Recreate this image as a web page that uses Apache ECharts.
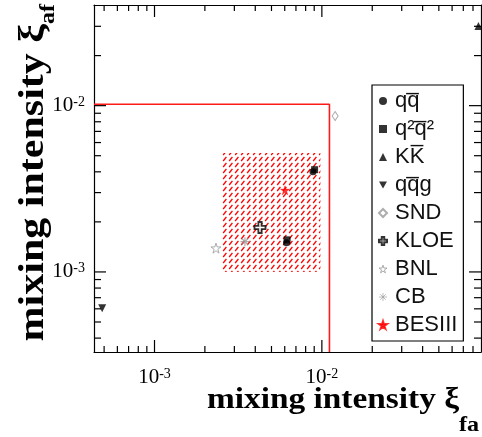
<!DOCTYPE html>
<html lang="en">
<head>
<meta charset="UTF-8">
<title>mixing intensity</title>
<script src="https://cdn.jsdelivr.net/npm/echarts@6/dist/echarts.min.js"></script>
<style>html,body{margin:0;padding:0;background:#fff;}</style>
</head>
<body>
<div id="main" style="width:482px;height:437px;"></div>
<script type="text/javascript">
// axis ranges (log scale) and tick values
var xRange = [4.35e-4, 0.0893];
var yRange = [3.3e-4, 0.0403];
var xMajor = [1e-3, 1e-2];
var yMajor = [1e-3, 1e-2];
var xMinor = [5e-4, 6e-4, 7e-4, 8e-4, 9e-4, 2e-3, 3e-3, 4e-3, 5e-3, 6e-3, 7e-3, 8e-3, 9e-3,
              2e-2, 3e-2, 4e-2, 5e-2, 6e-2, 7e-2, 8e-2];
var yMinor = [4e-4, 5e-4, 6e-4, 7e-4, 8e-4, 9e-4, 2e-3, 3e-3, 4e-3, 5e-3, 6e-3, 7e-3, 8e-3, 9e-3,
              2e-2, 3e-2];

// legend names
var names = ['qq\u0305', 'q\u00b2q\u0305\u00b2', 'KK\u0305', 'qq\u0305g', 'SND', 'KLOE', 'BNL', 'CB', 'BESIII'];

// points [xi_fa, xi_af]
var qqbar   = [[8.85e-3, 4.0e-3], [6.15e-3, 1.5e-3]];
var q2q2bar = [[9.05e-3, 4.12e-3], [6.2e-3, 1.56e-3]];
var kkbar   = [[0.0862, 0.0301]];
var qqg     = [[4.87e-4, 6.04e-4]];
var snd     = [[0.012, 8.66e-3]];
var kloe    = [[4.27e-3, 1.85e-3]];
var bnl     = [[2.33e-3, 1.39e-3]];
var cb      = [[3.47e-3, 1.52e-3]];
var besiii  = [[6.02e-3, 3.1e-3]];

// BESIII allowed band and upper limits
var bandX = [2.5e-3, 9.8e-3];
var bandY = [1.0e-3, 5.2e-3];
var boundX = 0.0111;
var boundY = 0.0102;

var serif = '"Liberation Serif", "Times New Roman", serif';
var sans = '"Liberation Sans", Arial, sans-serif';

var myChart = echarts.init(document.getElementById('main'));

// red hatch for the band
var hatch = document.createElement('canvas');
hatch.width = 6; hatch.height = 6;
var hc = hatch.getContext('2d');
hc.strokeStyle = '#ff0000';
hc.lineWidth = 1.3;
hc.beginPath(); hc.moveTo(1.2, 5); hc.lineTo(4.4, 0.8); hc.stroke();

var starPath = 'path://M50,2 L61,37 L98,37 L68,59 L79,95 L50,73 L21,95 L32,59 L2,37 L39,37 Z';
var plusPath = 'path://M35,0 H65 V35 H100 V65 H65 V100 H35 V65 H0 V35 H35 Z';
var astPath = 'path://M50,0 L50,100 M0,50 L100,50 M15,15 L85,85 M85,15 L15,85';
var downPath = 'path://M0,0 L100,0 L50,90 Z';

function powLabel(v) {
    var e = Math.log(v) / Math.LN10;
    var r = Math.round(e);
    if (Math.abs(e - r) > 1e-6) return '';
    return '{b|10}{s|' + r + '}';
}

var labelRich = {
    b: {fontFamily: serif, fontSize: 21, color: '#000', lineHeight: 21, verticalAlign: 'bottom'},
    s: {fontFamily: serif, fontSize: 14, color: '#000', lineHeight: 14, verticalAlign: 'top'}
};

// ticks drawn inward from each frame edge
function tickSeries(vals, axis, side, len) {
    return {
        type: 'custom', silent: true, z: 6, clip: false,
        data: vals.map(function (v) {
            if (axis === 'x') return [v, side === 'lo' ? yRange[0] : yRange[1]];
            return [side === 'lo' ? xRange[0] : xRange[1], v];
        }),
        renderItem: function (params, api) {
            var p = api.coord([api.value(0), api.value(1)]);
            var q;
            if (axis === 'x') q = [p[0], side === 'lo' ? p[1] - len : p[1] + len];
            else q = [side === 'lo' ? p[0] + len : p[0] - len, p[1]];
            return {
                type: 'line',
                shape: {x1: p[0], y1: p[1], x2: q[0], y2: q[1]},
                style: {stroke: '#000', lineWidth: 1.2}
            };
        }
    };
}

function pts(name, data, symbol, size, style) {
    return {
        name: name, type: 'scatter', z: 4, data: data,
        symbol: symbol, symbolSize: size, itemStyle: style
    };
}

var axisBase = {
    type: 'log', logBase: 10,
    axisLine: {show: true, onZero: false, lineStyle: {color: '#000', width: 1.2}},
    axisTick: {show: false}, minorTick: {show: false},
    splitLine: {show: false}, minorSplitLine: {show: false}
};

var legendData = names.map(function (n, i) {
    var d = {name: n};
    if (i === 6) d.itemStyle = {color: '#fff', borderColor: '#999', borderWidth: 1};
    if (i === 7) d.itemStyle = {color: '#999', borderColor: '#999', borderWidth: 0.8};
    return d;
});

var option = {
    animation: false,
    backgroundColor: '#fff',
    grid: {left: 94, right: 1, top: 5, bottom: 85, outerBoundsMode: 'none'},
    xAxis: [
        echarts.util.merge({
            min: xRange[0], max: xRange[1], position: 'bottom',
            axisLabel: {margin: 15, showMinLabel: false, showMaxLabel: false, formatter: powLabel, rich: labelRich}
        }, axisBase),
        echarts.util.merge({
            min: xRange[0], max: xRange[1], position: 'top', axisLabel: {show: false}
        }, axisBase)
    ],
    yAxis: [
        echarts.util.merge({
            min: yRange[0], max: yRange[1], position: 'left',
            axisLabel: {margin: 9, showMinLabel: false, showMaxLabel: false, formatter: powLabel, rich: labelRich}
        }, axisBase),
        echarts.util.merge({
            min: yRange[0], max: yRange[1], position: 'right', axisLabel: {show: false}
        }, axisBase)
    ],
    legend: {
        orient: 'vertical', left: 372, top: 85,
        data: legendData, selectedMode: false,
        itemWidth: 8, itemHeight: 8, itemGap: 6,
        padding: [5, 6, 5, 6],
        borderColor: '#000', borderWidth: 1.2, borderRadius: 0,
        backgroundColor: '#fff',
        textStyle: {fontFamily: sans, fontSize: 22, lineHeight: 22, color: '#111', padding: [0, 0, 0, 3]}
    },
    graphic: [
        {
            type: 'text', left: 207, top: 386, scaleX: 1.15, z: 10,
            style: {
                text: '{m|mixing intensity \u03be}{s|fa}',
                rich: {
                    m: {font: 'bold 29px ' + serif, fill: '#000', verticalAlign: 'top'},
                    s: {font: 'bold 21px ' + serif, fill: '#000', verticalAlign: 'top', padding: [29, 0, 0, 0]}
                }
            }
        },
        {
            type: 'text', left: 16, top: 4, rotation: Math.PI / 2, scaleX: 1.2, z: 10,
            style: {
                text: '{m|mixing intensity \u03be}{s|af}',
                rich: {
                    m: {font: 'bold 35px ' + serif, fill: '#000', verticalAlign: 'top'},
                    s: {font: 'bold 20px ' + serif, fill: '#000', verticalAlign: 'top', padding: [23, 0, 0, 0]}
                }
            }
        }
    ],
    series: [
        {
            type: 'custom', silent: true, z: 1,
            data: [[bandX[0], bandY[0], bandX[1], bandY[1]]],
            encode: {x: [0, 2], y: [1, 3]},
            renderItem: function (params, api) {
                var a = api.coord([api.value(0), api.value(1)]);
                var b = api.coord([api.value(2), api.value(3)]);
                return {
                    type: 'rect',
                    shape: {x: a[0], y: b[1], width: b[0] - a[0], height: a[1] - b[1]},
                    style: {fill: {image: hatch, repeat: 'repeat'}}
                };
            }
        },
        {
            type: 'line', silent: true, z: 2, symbol: 'none',
            data: [[xRange[0], boundY], [boundX, boundY], [boundX, yRange[0]]],
            lineStyle: {color: '#ff1a1a', width: 1.6}
        },
        pts(names[0], qqbar, 'circle', 7, {color: '#000'}),
        pts(names[1], q2q2bar, 'rect', 7, {color: '#000'}),
        pts(names[2], kkbar, 'triangle', 8, {color: '#000'}),
        pts(names[3], qqg, downPath, 8, {color: '#000'}),
        pts(names[4], snd, 'diamond', [6, 9], {color: '#fff', borderColor: '#999', borderWidth: 1}),
        pts(names[5], kloe, plusPath, 11, {color: '#fff', borderColor: '#000', borderWidth: 1.8}),
        pts(names[6], bnl, starPath, 10, {color: '#fff', borderColor: '#999', borderWidth: 1}),
        pts(names[7], cb, astPath, 9, {color: '#999', borderColor: '#999', borderWidth: 1.2}),
        pts(names[8], besiii, starPath, 9, {color: '#ff0000', borderColor: '#ff0000', borderWidth: 0.5}),
        tickSeries(xMajor, 'x', 'lo', 12),
        tickSeries(xMajor, 'x', 'hi', 12),
        tickSeries(yMajor, 'y', 'lo', 12),
        tickSeries(yMajor, 'y', 'hi', 12),
        tickSeries(xMinor, 'x', 'lo', 6),
        tickSeries(xMinor, 'x', 'hi', 6),
        tickSeries(yMinor, 'y', 'lo', 7),
        tickSeries(yMinor, 'y', 'hi', 7)
    ]
};
myChart.setOption(option);
</script>
</body>
</html>
